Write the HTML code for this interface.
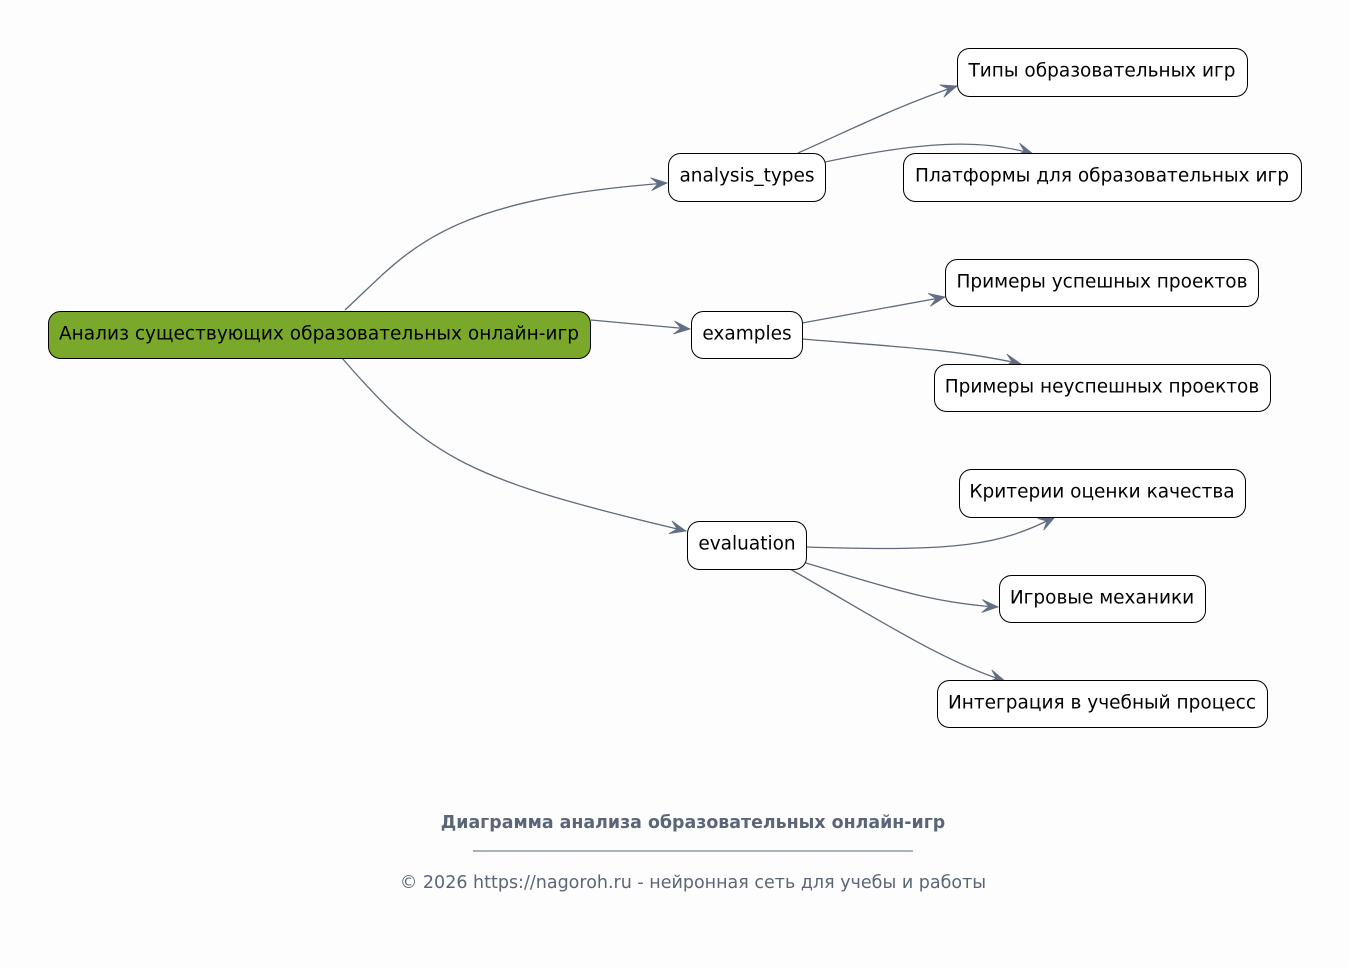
<!DOCTYPE html>
<html><head><meta charset="utf-8"><style>
html,body{margin:0;padding:0;background:#fdfdfd;}
svg{display:block;}
text{font-family:"DejaVu Sans","Liberation Sans",sans-serif;}
</style></head><body>
<svg width="1349" height="967" viewBox="0 0 1349 967" xmlns="http://www.w3.org/2000/svg">
<defs>
<marker id="a" markerWidth="20" markerHeight="16" refX="17" refY="8" orient="auto" markerUnits="userSpaceOnUse">
<path d="M1,1.5 L17,8 L1,14.5 L8,8 Z" fill="#626d86" stroke="#626d86" stroke-width="0.8" stroke-linejoin="miter"/>
</marker>
</defs>
<rect width="1349" height="967" fill="#fdfdfd"/>
<g fill="none" stroke="#5f6b7a" stroke-width="1.3" marker-end="url(#a)">
<path d="M345,310 C410,250 440,200 667,183"/>
<path d="M591,320 L690,329"/>
<path d="M342,358 C430,460 470,480 686,531"/>
<path d="M798,153 C850,130 900,105 957,86"/>
<path d="M825,162 C920,142 980,138 1033,154"/>
<path d="M802,323 L945,297"/>
<path d="M802,339 C900,347 960,350 1021,364"/>
<path d="M806,547 C960,552 1000,545 1055,517"/>
<path d="M806,563 C880,585 930,603 998,607"/>
<path d="M790,569 C880,620 940,660 1005,681"/>
</g>
<g stroke="#000" stroke-width="1">
<rect x="48.5" y="311.5" width="542" height="47" rx="12" fill="#79a82b"/>
<rect x="668.5" y="153.5" width="157" height="48" rx="12" fill="#fff"/>
<rect x="691.5" y="311.5" width="111" height="47" rx="12" fill="#fff"/>
<rect x="687.5" y="521.5" width="119" height="48" rx="12" fill="#fff"/>
<rect x="957.5" y="48.5" width="290" height="48" rx="12" fill="#fff"/>
<rect x="903.5" y="153.5" width="398" height="48" rx="12" fill="#fff"/>
<rect x="945.5" y="259.5" width="313" height="47" rx="12" fill="#fff"/>
<rect x="934.5" y="364.5" width="336" height="47" rx="12" fill="#fff"/>
<rect x="959.5" y="469.5" width="286" height="48" rx="12" fill="#fff"/>
<rect x="999.5" y="575.5" width="206" height="47" rx="12" fill="#fff"/>
<rect x="937.5" y="680.5" width="330" height="47" rx="12" fill="#fff"/>
</g>
<g font-size="18.5" fill="#000" text-anchor="middle" dominant-baseline="central">
<text x="319" y="334" textLength="520" lengthAdjust="spacingAndGlyphs">Анализ существующих образовательных онлайн-игр</text>
<text x="747" y="176">analysis_types</text>
<text x="747" y="334">examples</text>
<text x="747" y="544">evaluation</text>
<text x="1102" y="71">Типы образовательных игр</text>
<text x="1102" y="176">Платформы для образовательных игр</text>
<text x="1102" y="282">Примеры успешных проектов</text>
<text x="1102" y="387">Примеры неуспешных проектов</text>
<text x="1102" y="492">Критерии оценки качества</text>
<text x="1102" y="598">Игровые механики</text>
<text x="1102" y="703">Интеграция в учебный процесс</text>
</g>
<text x="693" y="828" font-size="17.4" font-weight="bold" fill="#5a6677" text-anchor="middle">Диаграмма анализа образовательных онлайн-игр</text>
<line x1="473" y1="851" x2="913" y2="851" stroke="#5a6677" stroke-width="1"/>
<text x="693" y="888" font-size="17.5" fill="#5a6677" text-anchor="middle">© 2026 https://nagoroh.ru - нейронная сеть для учебы и работы</text>
</svg>
</body></html>
